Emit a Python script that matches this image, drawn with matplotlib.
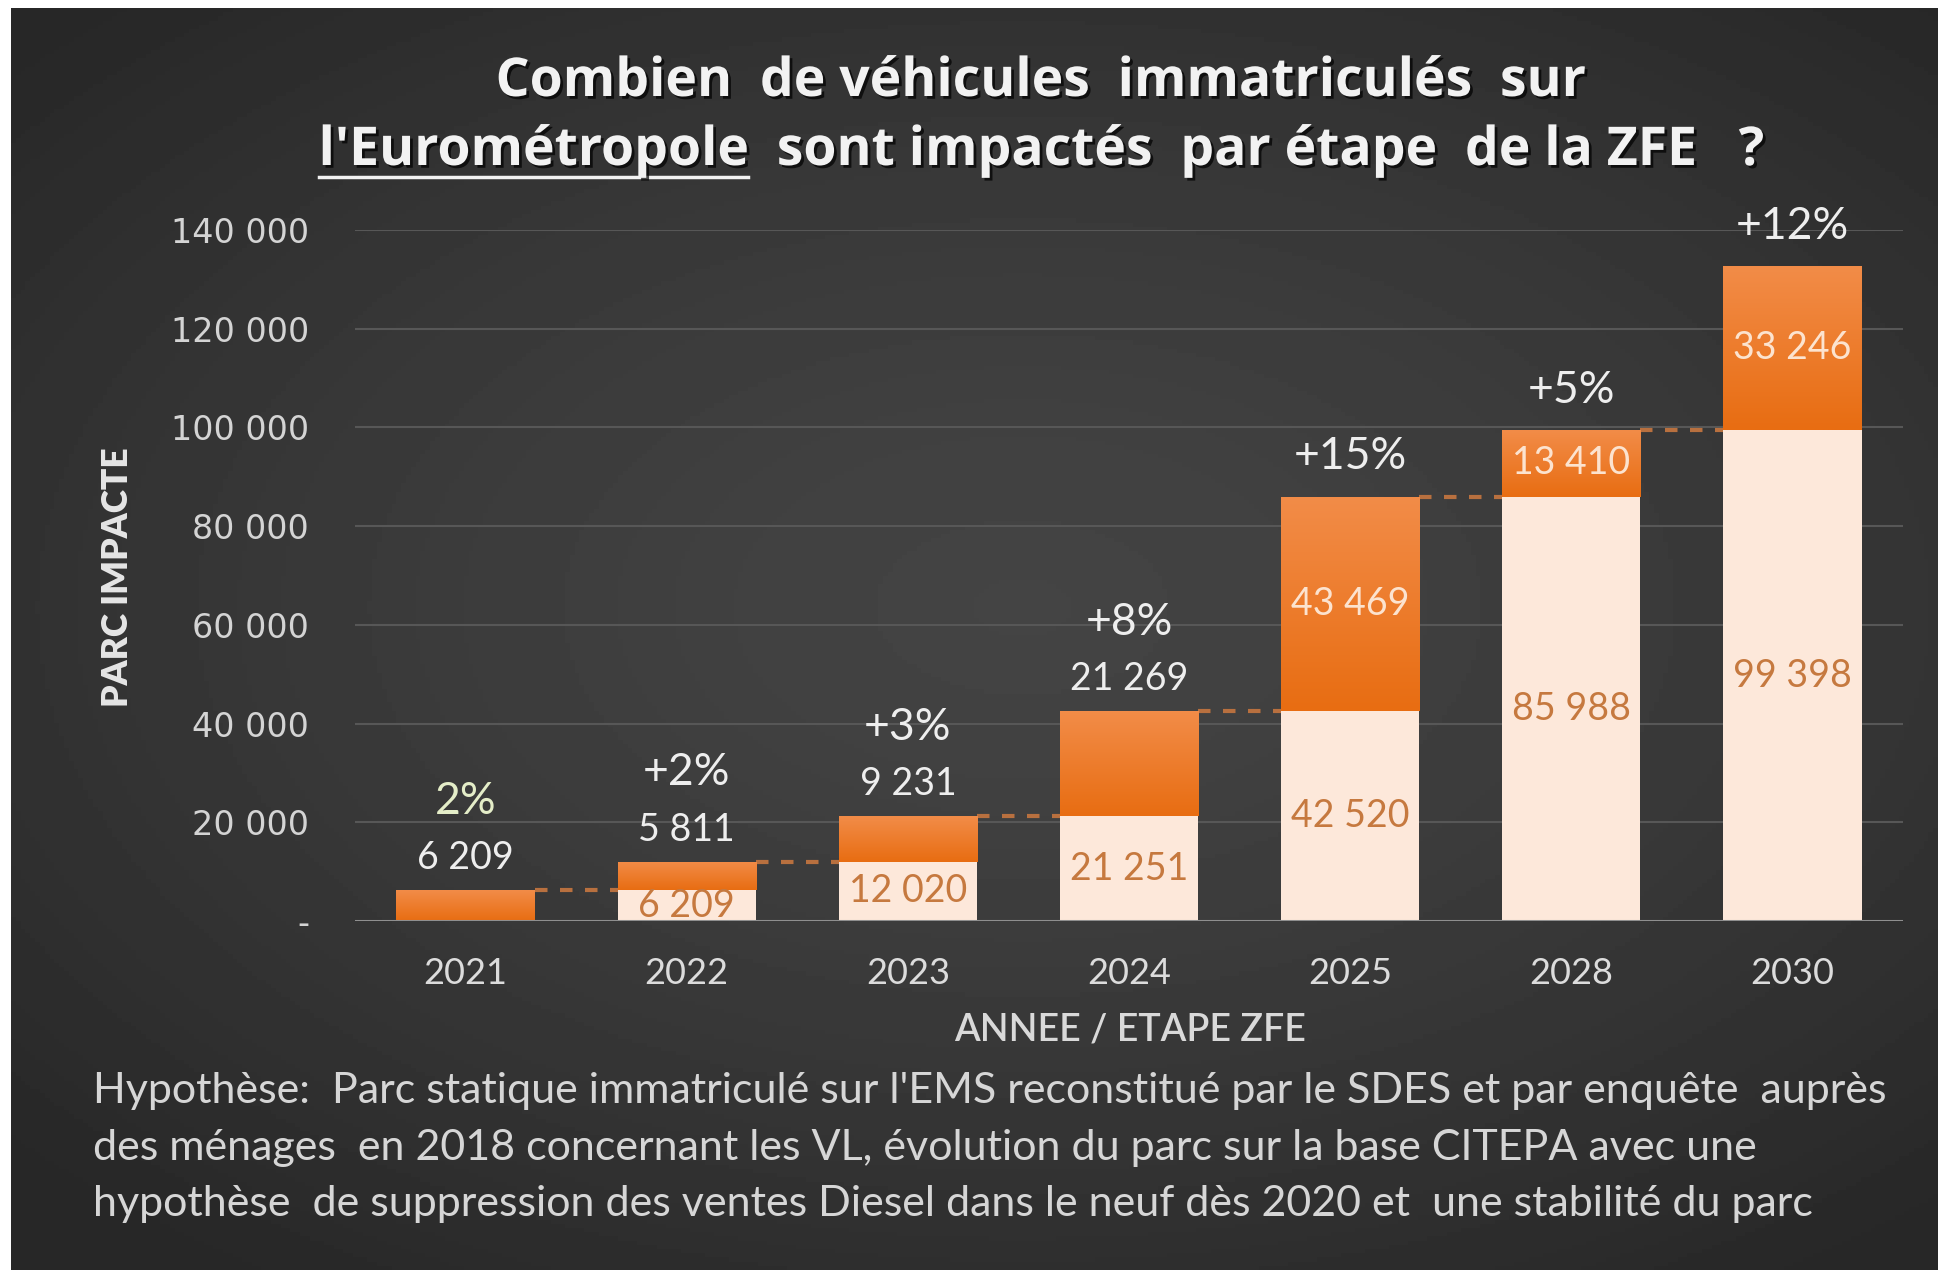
import numpy as np
import matplotlib
matplotlib.use("Agg")
import matplotlib.pyplot as plt
import matplotlib.patheffects as pe
from matplotlib.colors import LinearSegmentedColormap

# donnees
years = ["2021", "2022", "2023", "2024", "2025", "2028", "2030"]
base = [0, 6209, 12020, 21251, 42520, 85988, 99398]
added = [6209, 5811, 9231, 21269, 43469, 13410, 33246]
pct = ["2%", "+2%", "+3%", "+8%", "+15%", "+5%", "+12%"]
label_inside = [False, False, False, False, True, True, True]
yticks = [0, 20000, 40000, 60000, 80000, 100000, 120000, 140000]
ytick_labels = ["-", "20 000", "40 000", "60 000", "80 000", "100 000", "120 000", "140 000"]

def fmt(v):
    return f"{v:,}".replace(",", " ")

W, H = 1938, 1270
fig = plt.figure(figsize=(W / 100, H / 100), dpi=100, facecolor="white")

# fond degrade
bg = fig.add_axes([11 / W, 0, 1 - 11 / W, 1 - 8 / H], zorder=-5)
gx, gy = np.meshgrid(np.linspace(-1, 1, 400), np.linspace(-1, 1, 300))
r = np.sqrt(((gx - 0.05) / 1.1) ** 2 + ((gy + 0.05) / 1.0) ** 2)
r = np.clip(r, 0, 1.3)
val = 0x44 - (0x44 - 0x27) * (r / 1.3) ** 1.4
bg.imshow(val, cmap="gray", vmin=0, vmax=255, aspect="auto", extent=[0, 1, 0, 1])
bg.set_axis_off()

ax = fig.add_axes([355 / W, 1 - 921 / H, 1548 / W, (921 - 230) / H])
ax.set_facecolor("none")
for s in ax.spines.values():
    s.set_visible(False)

x = np.arange(len(years))
w = 0.625
tops = [b + a for b, a in zip(base, added)]

for yv in yticks[1:]:
    ax.axhline(yv, color="#575757", lw=1.5, zorder=0)
ax.axhline(0, color="#8f8f8f", lw=2.2, zorder=3)

ax.bar(x, base, width=w, color="#fde8da", zorder=2)
orange = ax.bar(x, added, bottom=base, width=w, color="#ec7a2a", zorder=2)

# degrade orange dans les barres
cmap = LinearSegmentedColormap.from_list("o", ["#e86d12", "#f28c48"])
grad = np.linspace(0, 1, 100).reshape(-1, 1)
for i, p in enumerate(orange):
    im = ax.imshow(grad, cmap=cmap, origin="lower", aspect="auto", zorder=2.5,
                   extent=[x[i] - w / 2, x[i] + w / 2, base[i], tops[i]])
    im.set_clip_path(p)

# lignes pointillees entre les barres
for i in range(len(x) - 1):
    ax.plot([x[i] + w / 2, x[i + 1] - w / 2], [tops[i], tops[i]], ls=(0, (3, 3)),
            color="#b8703f", lw=3, zorder=1)

ax.set_xlim(-0.5, len(x) - 0.5)
ax.set_ylim(0, 140000)

lab_font = "Lato"
for i in range(len(x)):
    if base[i] > 0:
        ax.text(x[i], base[i] / 2, fmt(base[i]), ha="center", va="center",
                fontsize=27, color="#c6793f", family=lab_font, zorder=4)
    if label_inside[i]:
        ax.text(x[i], base[i] + added[i] / 2, fmt(added[i]), ha="center", va="center",
                fontsize=27, color="#fce3cf", family=lab_font, zorder=4)
        ax.annotate(pct[i], (x[i], tops[i]), xytext=(0, 29), textcoords="offset points",
                    ha="center", va="center", fontsize=32, color="#eeeeee", family=lab_font)
    else:
        ax.annotate(fmt(added[i]), (x[i], tops[i]), xytext=(0, 23), textcoords="offset points",
                    ha="center", va="center", fontsize=27, color="#eeeeee", family=lab_font)
        ax.annotate(pct[i], (x[i], tops[i]), xytext=(0, 64), textcoords="offset points",
                    ha="center", va="center", fontsize=32,
                    color="#e4edc8" if i == 0 else "#eeeeee", family=lab_font)

ax.set_xticks(x)
ax.set_xticklabels(years, fontsize=26, color="#dcdcdc", family=lab_font)
ax.set_yticks(yticks)
ax.set_yticklabels(ytick_labels, fontsize=24, color="#d4d4d4", family="DejaVu Sans")
ax.tick_params(axis="both", length=0)
ax.tick_params(axis="x", pad=26)
ax.tick_params(axis="y", pad=33)

fig.text(117 / W, 1 - 577 / H, "PARC IMPACTE", rotation=90, ha="center", va="center",
         fontsize=25.5, fontweight="heavy", color="#e6e6e6", family=lab_font)
fig.text(1130 / W, 1 - 1030 / H, "ANNEE / ETAPE ZFE", ha="center", va="center",
         fontsize=27, fontweight="semibold", color="#d9d9d9", family=lab_font)

# titre
title_font = "Open Sans"
tsize = 38.5
shadow = [pe.SimplePatchShadow(offset=(2, -2), shadow_rgbFace="black", alpha=0.7), pe.Normal()]
t1 = fig.text(1040 / W, 1 - 82 / H, "Combien  de véhicules  immatriculés  sur", ha="center",
              va="center", fontsize=tsize, fontweight="bold", color="#f2f2f2", family=title_font,
              path_effects=shadow)
line2 = "l'Eurométropole  sont impactés  par étape  de la ZFE   ?"
t2 = fig.text(1040 / W, 1 - 151 / H, line2, ha="center", va="center", fontsize=tsize,
              fontweight="bold", color="#f2f2f2", family=title_font, path_effects=shadow)

fig.canvas.draw()
rend = fig.canvas.get_renderer()
bb = t2.get_window_extent(rend)
tmp = fig.text(0, 0, "l'Eurométropole", fontsize=tsize, fontweight="bold", family=title_font)
wu = tmp.get_window_extent(rend).width
tmp.remove()
uy = (H - 177) / H
fig.add_artist(plt.Line2D([bb.x0 / W, (bb.x0 + wu) / W], [uy, uy], color="#f2f2f2", lw=2.5,
                          transform=fig.transFigure))

# hypothese
notes = [
    "Hypothèse:  Parc statique immatriculé sur l'EMS reconstitué par le SDES et par enquête  auprès",
    "des ménages  en 2018 concernant les VL, évolution du parc sur la base CITEPA avec une",
    "hypothèse  de suppression des ventes Diesel dans le neuf dès 2020 et  une stabilité du parc",
]
for line, yy in zip(notes, [1091, 1148, 1204]):
    fig.text(93 / W, 1 - yy / H, line, ha="left", va="center", fontsize=31,
             color="#d6d6d6", family=lab_font)

fig.savefig("out.png", dpi=100, facecolor="white")
